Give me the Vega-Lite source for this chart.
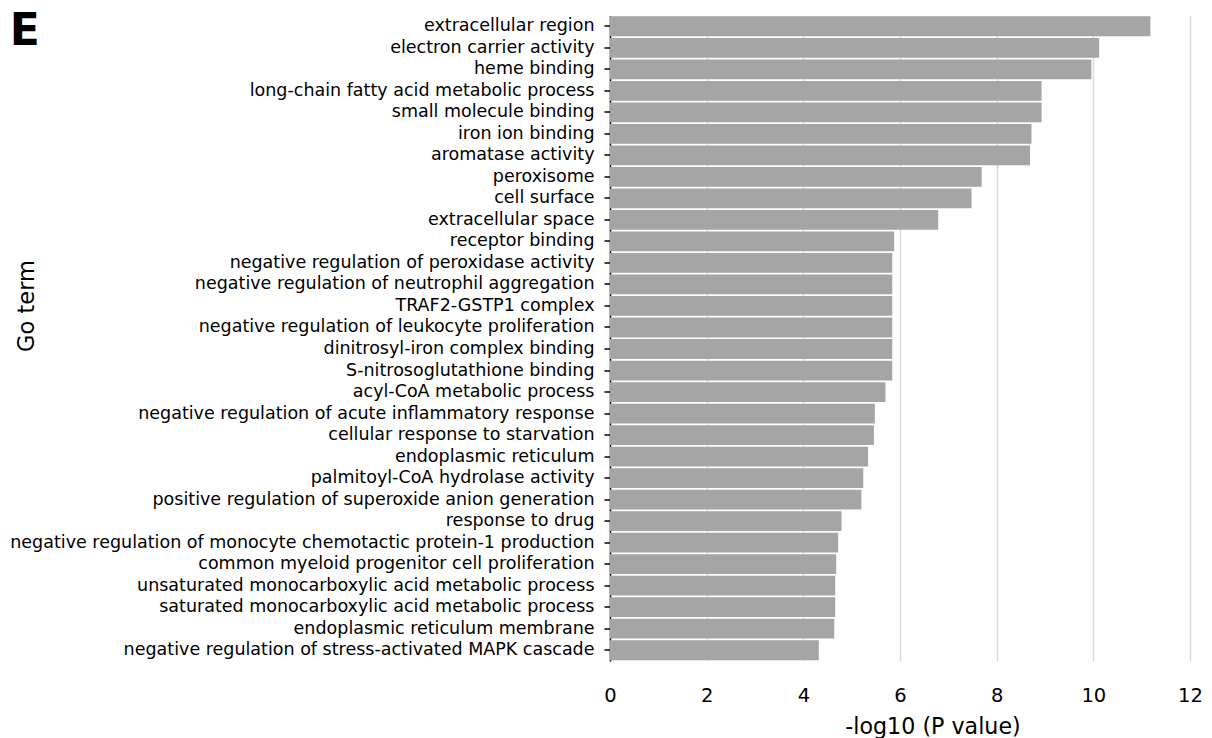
{
  "$schema": "https://vega.github.io/schema/vega-lite/v6.json",
  "width": 580,
  "height": 645.5,
  "autosize": {"type": "none"},
  "padding": {"left": 610, "top": 15.5, "right": 22, "bottom": 77},
  "background": "white",
  "title": {
    "text": "E",
    "anchor": "start",
    "frame": "bounds",
    "font": "DejaVu Sans",
    "fontSize": 44,
    "fontWeight": "bold",
    "color": "black",
    "offset": -38
  },
  "data": {
    "values": [
      {"term": "extracellular region", "neglog10p": 11.18},
      {"term": "electron carrier activity", "neglog10p": 10.12},
      {"term": "heme binding", "neglog10p": 9.96},
      {"term": "long-chain fatty acid metabolic process", "neglog10p": 8.93},
      {"term": "small molecule binding", "neglog10p": 8.93},
      {"term": "iron ion binding", "neglog10p": 8.72},
      {"term": "aromatase activity", "neglog10p": 8.69},
      {"term": "peroxisome", "neglog10p": 7.69},
      {"term": "cell surface", "neglog10p": 7.48},
      {"term": "extracellular space", "neglog10p": 6.79},
      {"term": "receptor binding", "neglog10p": 5.88},
      {"term": "negative regulation of peroxidase activity", "neglog10p": 5.84},
      {"term": "negative regulation of neutrophil aggregation", "neglog10p": 5.84},
      {"term": "TRAF2-GSTP1 complex", "neglog10p": 5.84},
      {"term": "negative regulation of leukocyte proliferation", "neglog10p": 5.84},
      {"term": "dinitrosyl-iron complex binding", "neglog10p": 5.84},
      {"term": "S-nitrosoglutathione binding", "neglog10p": 5.84},
      {"term": "acyl-CoA metabolic process", "neglog10p": 5.70},
      {"term": "negative regulation of acute inflammatory response", "neglog10p": 5.48},
      {"term": "cellular response to starvation", "neglog10p": 5.46},
      {"term": "endoplasmic reticulum", "neglog10p": 5.34},
      {"term": "palmitoyl-CoA hydrolase activity", "neglog10p": 5.24},
      {"term": "positive regulation of superoxide anion generation", "neglog10p": 5.20},
      {"term": "response to drug", "neglog10p": 4.79},
      {"term": "negative regulation of monocyte chemotactic protein-1 production", "neglog10p": 4.72},
      {"term": "common myeloid progenitor cell proliferation", "neglog10p": 4.68},
      {"term": "unsaturated monocarboxylic acid metabolic process", "neglog10p": 4.66},
      {"term": "saturated monocarboxylic acid metabolic process", "neglog10p": 4.66},
      {"term": "endoplasmic reticulum membrane", "neglog10p": 4.64},
      {"term": "negative regulation of stress-activated MAPK cascade", "neglog10p": 4.32}
    ]
  },
  "mark": {"type": "bar", "color": "#a5a5a5"},
  "encoding": {
    "y": {
      "field": "term",
      "type": "nominal",
      "sort": null,
      "scale": {"paddingInner": 0.08, "paddingOuter": 0.04},
      "axis": {
        "title": "Go term",
        "titleFont": "DejaVu Sans",
        "titleFontSize": 22.5,
        "titleFontWeight": "normal",
        "titleColor": "black",
        "titleAngle": -90,
        "titleX": -577,
        "titleY": 290,
        "titleAlign": "center",
        "titleBaseline": "alphabetic",
        "labelFont": "DejaVu Sans",
        "labelFontSize": 17.5,
        "labelColor": "black",
        "labelLimit": 0,
        "labelPadding": 10,
        "tickSize": 6,
        "tickColor": "black",
        "tickWidth": 1.5,
        "domainColor": "black",
        "domainWidth": 1.5,
        "grid": false
      }
    },
    "x": {
      "field": "neglog10p",
      "type": "quantitative",
      "scale": {"domain": [0, 12], "nice": false},
      "axis": {
        "values": [0, 2, 4, 6, 8, 10, 12],
        "grid": true,
        "gridColor": "#d9d9d9",
        "gridWidth": 1.5,
        "domain": false,
        "ticks": false,
        "tickSize": 0,
        "labelFont": "DejaVu Sans",
        "labelFontSize": 19.5,
        "labelColor": "black",
        "labelBaseline": "alphabetic",
        "labelPadding": 40,
        "labelFlush": false,
        "labelOverlap": false,
        "title": "-log10 (P value)",
        "titleFont": "DejaVu Sans",
        "titleFontSize": 22.2,
        "titleFontWeight": "normal",
        "titleColor": "black",
        "titleX": 322.5,
        "titleY": 72,
        "titleAlign": "center",
        "titleBaseline": "alphabetic"
      }
    }
  },
  "config": {"view": {"stroke": null}, "font": "DejaVu Sans"}
}
